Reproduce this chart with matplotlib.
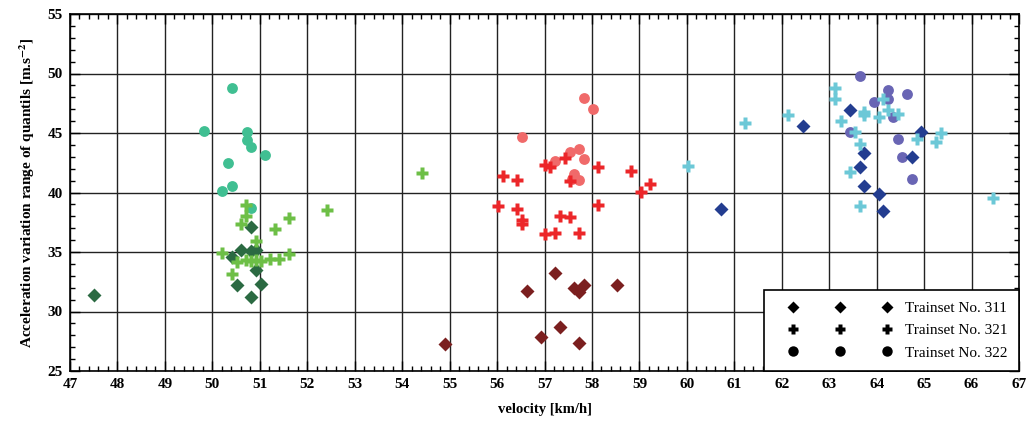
"""Scatter of acceleration variation range against velocity for three trainsets."""

import matplotlib.pyplot as plt
from matplotlib.legend_handler import HandlerTuple
from matplotlib.lines import Line2D
from matplotlib.ticker import MultipleLocator

# --- Trainset No. 311 (diamonds) ---
v311_green = [47.50, 50.82, 50.61, 50.82, 50.92, 50.41, 50.92, 50.51, 51.02, 50.82]
a311_green = [31.41, 37.07, 35.17, 35.08, 35.14, 34.60, 33.46, 32.20, 32.34, 31.19]
v311_red = [54.90, 57.23, 56.63, 57.63, 57.73, 57.83, 58.53, 57.33, 56.93, 57.73]
a311_red = [27.27, 33.21, 31.70, 32.00, 31.64, 32.20, 32.20, 28.67, 27.83, 27.35]
v311_blue = [60.73, 62.44, 63.44, 64.94, 63.74, 64.75, 63.64, 63.74, 64.04, 64.14]
a311_blue = [38.61, 45.59, 46.93, 45.08, 43.29, 42.98, 42.14, 40.52, 39.87, 38.45]

# --- Trainset No. 321 (plus) ---
v321_green = [50.71, 50.71, 50.61, 51.31, 51.62, 50.92, 50.21, 50.51, 50.71, 50.82,
              50.92, 51.02, 51.22, 51.41, 51.62, 50.41, 52.41, 54.41]
a321_green = [38.92, 38.05, 37.32, 36.93, 37.83, 35.92, 34.94, 34.16, 34.33, 34.27,
              34.33, 34.24, 34.44, 34.41, 34.86, 33.15, 38.53, 41.64]
v321_red = [56.12, 56.43, 57.02, 57.12, 57.43, 57.53, 58.13, 58.83, 59.23, 59.03,
            56.02, 56.43, 58.13, 56.52, 56.52, 57.33, 57.53, 57.02, 57.23, 57.73]
a321_red = [41.41, 41.08, 42.34, 42.12, 42.93, 40.94, 42.12, 41.83, 40.69, 40.07,
            38.84, 38.59, 38.98, 37.69, 37.35, 38.05, 37.97, 36.54, 36.62, 36.62]
v321_blue = [60.03, 61.23, 62.13, 63.13, 63.13, 63.24, 63.74, 63.74, 64.04, 64.14,
             64.24, 64.44, 63.54, 63.64, 63.44, 63.64, 64.85, 65.25, 65.35, 66.45]
a321_blue = [42.23, 45.81, 46.54, 48.80, 47.83, 46.03, 46.79, 46.49, 46.34, 47.83,
             46.93, 46.60, 45.10, 44.05, 41.75, 38.87, 44.47, 44.27, 45.03, 39.54]

# --- Trainset No. 322 (circles) ---
v322_green = [50.41, 49.82, 50.72, 50.72, 50.82, 51.12, 50.32, 50.41, 50.21, 50.82]
a322_green = [48.80, 45.19, 45.10, 44.39, 43.82, 43.18, 42.50, 40.55, 40.15, 38.70]
v322_red = [57.83, 58.03, 56.52, 57.53, 57.73, 57.23, 57.83, 57.63, 57.73, 57.58]
a322_red = [47.97, 47.02, 44.64, 43.38, 43.66, 42.62, 42.82, 41.54, 41.05, 41.10]
v322_blue = [63.64, 64.24, 64.64, 64.24, 63.94, 64.34, 63.44, 64.44, 64.54, 64.75]
a322_blue = [49.82, 48.59, 48.28, 47.86, 47.61, 46.34, 45.08, 44.50, 42.98, 41.16]

labels = ['Trainset No. 311', 'Trainset No. 321', 'Trainset No. 322']


def main():
    """Main program called during execution."""

    plt.rcParams['font.family'] = ['Liberation Serif', 'DejaVu Serif']
    plt.rcParams['mathtext.fontset'] = 'stix'

    # initialize figure
    fig = plt.figure(figsize=(10.35, 4.21), dpi=100)
    ax = fig.add_axes([70/1035, 50/421, 949/1035, 357/421])

    # circles first, plus on top, diamonds in between
    circ = dict(ls='none', marker='o', ms=7.8, mec='none')
    diam = dict(ls='none', marker='D', ms=6.8, mec='none')
    plus = dict(ls='none', marker='P', ms=8.0, mec='none')
    ax.plot(v322_green, a322_green, color='#40bf92', **circ)
    ax.plot(v322_red, a322_red, color='#f06a6a', **circ)
    ax.plot(v322_blue, a322_blue, color='#6965b4', **circ)
    ax.plot(v311_green, a311_green, color='#2b6a42', **diam)
    ax.plot(v311_red, a311_red, color='#7b1f1f', **diam)
    ax.plot(v311_blue, a311_blue, color='#233d90', **diam)
    ax.plot(v321_green, a321_green, color='#6dbf46', **plus)
    ax.plot(v321_red, a321_red, color='#ec2629', **plus)
    ax.plot(v321_blue, a321_blue, color='#6cc8d7', **plus)

    # set axes properties
    ax.set_xlim(47, 67)
    ax.set_ylim(25, 55)
    ax.xaxis.set_major_locator(MultipleLocator(1))
    ax.xaxis.set_minor_locator(MultipleLocator(0.2))
    ax.yaxis.set_major_locator(MultipleLocator(5))
    ax.yaxis.set_minor_locator(MultipleLocator(1))
    ax.tick_params(which='both', direction='in', top=True, right=True,
                   width=1, color='black')
    ax.tick_params(which='major', length=7, pad=5, labelsize=11)
    ax.tick_params(which='minor', length=3.5)
    for lab in ax.get_xticklabels() + ax.get_yticklabels():
        lab.set_fontweight('bold')
    ax.grid(True, which='major', color='#222222', lw=1.0)
    ax.set_axisbelow(True)
    for spine in ax.spines.values():
        spine.set_linewidth(1.2)

    ax.set_xlabel('velocity [km/h]', fontsize=10.5, fontweight='bold',
                  labelpad=9)
    ax.set_ylabel(r'Acceleration variation range of quantils [m.s$^{\mathbf{-2}}$]',
                  fontsize=11, fontweight='bold', labelpad=8)

    # legend with three black markers per row
    handles = []
    for marker, ms in (('D', 6.0), ('P', 7.5), ('o', 7.5)):
        handles.append(tuple(
            Line2D([], [], ls='none', marker=marker, ms=ms, color='black',
                   mec='none') for _ in range(3)))
    leg = ax.legend(handles, labels, loc='lower right', fontsize=11,
                    handler_map={tuple: HandlerTuple(ndivide=None, pad=0.85)},
                    handlelength=8.37, handletextpad=0.1, borderpad=0.75,
                    labelspacing=0.55, borderaxespad=0, fancybox=False,
                    framealpha=1, edgecolor='black')
    leg.get_frame().set_linewidth(1.2)

    # save figure
    fig.savefig('out.png', dpi=100)


if __name__ == '__main__':
    main()
